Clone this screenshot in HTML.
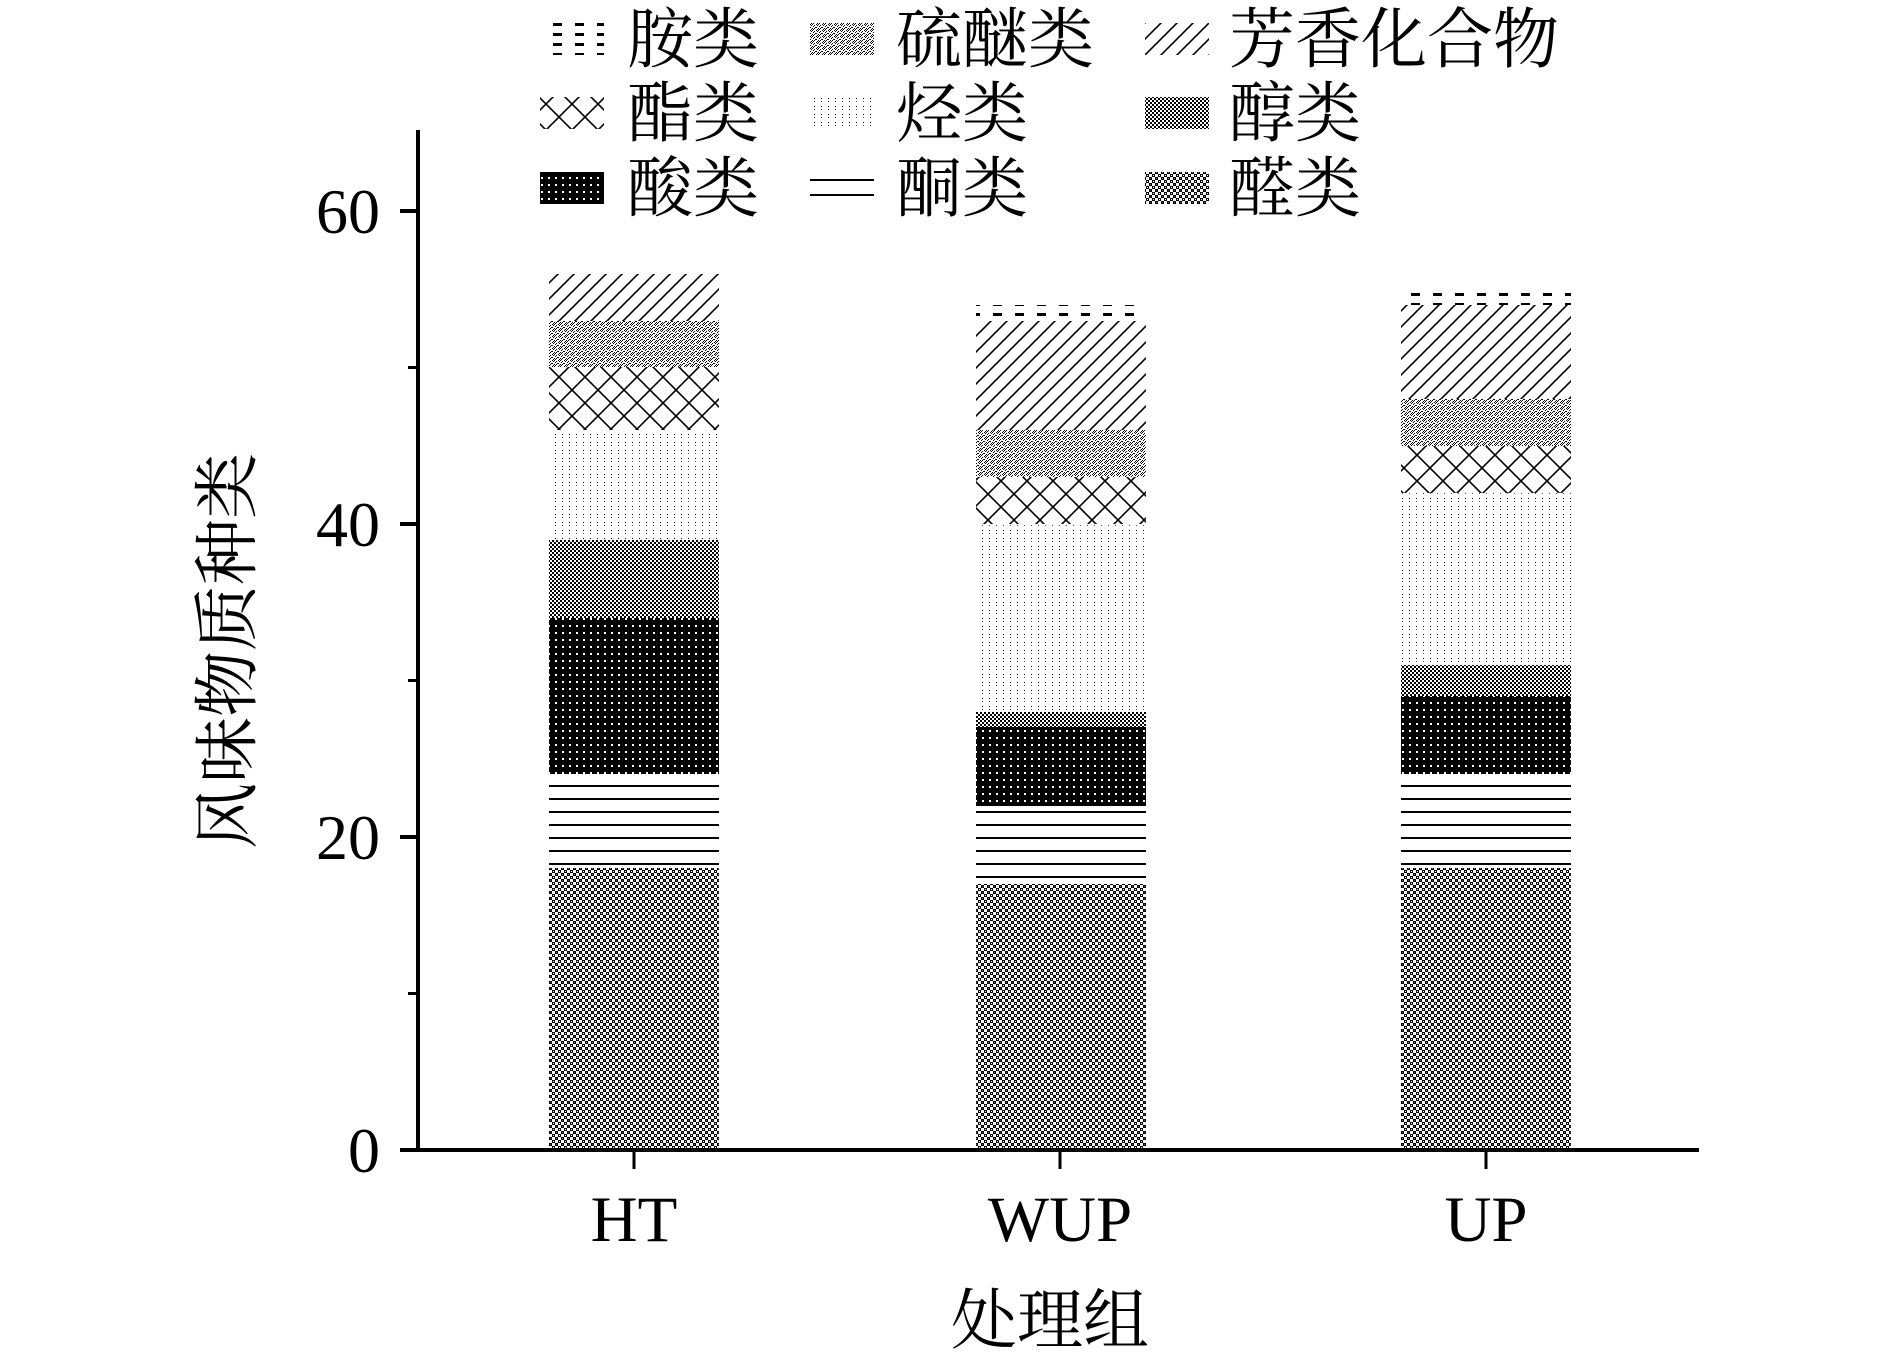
<!DOCTYPE html>
<html><head><meta charset="utf-8"><style>
html,body{margin:0;padding:0;background:#fff;}
svg{display:block;}
text{font-family:"Liberation Serif","Noto Serif CJK SC",serif;fill:#000;}
</style></head><body>
<svg width="1890" height="1359" viewBox="0 0 1890 1359" xmlns="http://www.w3.org/2000/svg">
<defs>
<pattern id="ald" width="6" height="6" patternUnits="userSpaceOnUse">
<rect width="6" height="6" fill="#fff"/><rect x="0" y="0" width="3" height="3" fill="#000"/><rect x="3" y="3" width="3" height="3" fill="#000"/><rect x="1" y="1" width="1" height="1" fill="#fff"/><rect x="4" y="4" width="1" height="1" fill="#555"/>
</pattern>
<pattern id="ket" width="20" height="13" patternUnits="userSpaceOnUse">
<rect width="20" height="13" fill="#fff"/><rect y="5" width="20" height="2" fill="#000"/>
</pattern>
<pattern id="acid" width="7" height="7" patternUnits="userSpaceOnUse">
<rect width="7" height="7" fill="#000"/><rect x="2" y="2" width="2" height="2" fill="#fff"/>
</pattern>
<pattern id="alc" width="4" height="4" patternUnits="userSpaceOnUse">
<rect width="4" height="4" fill="#fff"/><rect width="2" height="2" fill="#000"/><rect x="2" y="2" width="2" height="2" fill="#000"/>
</pattern>
<pattern id="hyd" width="7" height="8" patternUnits="userSpaceOnUse">
<rect width="7" height="8" fill="#fff"/><rect x="2" y="2" width="1" height="1" fill="#000"/><rect x="2" y="5" width="1" height="1" fill="#555"/>
</pattern>
<pattern id="est" width="26" height="26" patternUnits="userSpaceOnUse">
<rect width="26" height="26" fill="#fff"/><path d="M0 0L26 26M26 0L0 26" stroke="#000" stroke-width="1.6"/>
</pattern>
<pattern id="thio" width="6" height="6" patternUnits="userSpaceOnUse">
<rect width="6" height="6" fill="#fff"/><rect x="0" y="0" width="1" height="1" fill="#000"/><rect x="2" y="0" width="1" height="1" fill="#000"/><rect x="1" y="1" width="1" height="1" fill="#000"/><rect x="4" y="1" width="1" height="1" fill="#000"/><rect x="3" y="2" width="1" height="1" fill="#000"/><rect x="0" y="3" width="1" height="1" fill="#000"/><rect x="5" y="3" width="1" height="1" fill="#000"/><rect x="2" y="4" width="1" height="1" fill="#000"/><rect x="4" y="4" width="1" height="1" fill="#000"/><rect x="1" y="5" width="1" height="1" fill="#000"/><rect x="3" y="5" width="1" height="1" fill="#000"/>
</pattern>
<pattern id="aro" width="16" height="16" patternUnits="userSpaceOnUse">
<rect width="16" height="16" fill="#fff"/><path d="M-4 4L4 -4M0 16L16 0M12 20L20 12" stroke="#000" stroke-width="1.6"/>
</pattern>
<pattern id="ami" width="22" height="10" patternUnits="userSpaceOnUse">
<rect width="22" height="10" fill="#fff"/><rect x="3" y="3" width="9" height="3" fill="#000"/>
</pattern>
</defs>

<g>
<!-- HT -->
<rect x="549" y="868" width="170" height="282" fill="url(#ald)"/>
<rect x="549" y="774" width="170" height="94" fill="url(#ket)"/>
<rect x="549" y="618" width="170" height="156" fill="url(#acid)"/>
<rect x="549" y="540" width="170" height="78" fill="url(#alc)"/>
<rect x="549" y="430" width="170" height="110" fill="url(#hyd)"/>
<rect x="549" y="367" width="170" height="63" fill="url(#est)"/>
<rect x="549" y="321" width="170" height="46" fill="url(#thio)"/>
<rect x="549" y="274" width="170" height="47" fill="url(#aro)"/>
<!-- WUP -->
<rect x="976" y="884" width="170" height="266" fill="url(#ald)"/>
<rect x="976" y="806" width="170" height="78" fill="url(#ket)"/>
<rect x="976" y="727" width="170" height="79" fill="url(#acid)"/>
<rect x="976" y="712" width="170" height="15" fill="url(#alc)"/>
<rect x="976" y="524" width="170" height="188" fill="url(#hyd)"/>
<rect x="976" y="477" width="170" height="47" fill="url(#est)"/>
<rect x="976" y="430" width="170" height="47" fill="url(#thio)"/>
<rect x="976" y="321" width="170" height="109" fill="url(#aro)"/>
<rect x="976" y="305" width="170" height="16" fill="url(#ami)"/>
<!-- UP -->
<rect x="1401" y="868" width="170" height="282" fill="url(#ald)"/>
<rect x="1401" y="774" width="170" height="94" fill="url(#ket)"/>
<rect x="1401" y="696" width="170" height="78" fill="url(#acid)"/>
<rect x="1401" y="665" width="170" height="31" fill="url(#alc)"/>
<rect x="1401" y="493" width="170" height="172" fill="url(#hyd)"/>
<rect x="1401" y="446" width="170" height="47" fill="url(#est)"/>
<rect x="1401" y="399" width="170" height="47" fill="url(#thio)"/>
<rect x="1401" y="305" width="170" height="94" fill="url(#aro)"/>
<rect x="1401" y="289" width="170" height="16" fill="url(#ami)"/>
</g>

<g stroke="#000">
<line x1="418" y1="130" x2="418" y2="1152" stroke-width="4"/>
<line x1="400" y1="1150" x2="1699" y2="1150" stroke-width="4"/>
<line x1="400" y1="211" x2="418" y2="211" stroke-width="4"/>
<line x1="400" y1="524" x2="418" y2="524" stroke-width="4"/>
<line x1="400" y1="837" x2="418" y2="837" stroke-width="4"/>
<line x1="408" y1="367.5" x2="418" y2="367.5" stroke-width="3"/>
<line x1="408" y1="680.5" x2="418" y2="680.5" stroke-width="3"/>
<line x1="408" y1="993.5" x2="418" y2="993.5" stroke-width="3"/>
<line x1="634" y1="1150" x2="634" y2="1169" stroke-width="3"/>
<line x1="1060" y1="1150" x2="1060" y2="1169" stroke-width="3"/>
<line x1="1486" y1="1150" x2="1486" y2="1169" stroke-width="3"/>
</g>
<g font-size="64" text-anchor="end">
<text x="380" y="233">60</text>
<text x="380" y="546">40</text>
<text x="380" y="859">20</text>
<text x="380" y="1172">0</text>
</g>
<g font-size="65" text-anchor="middle">
<text x="634" y="1241">HT</text>
<text x="1060" y="1241">WUP</text>
<text x="1486" y="1241">UP</text>
</g>
<g font-size="66" text-anchor="middle">
<text x="1050" y="1343">处理组</text>
<text transform="translate(250,651) rotate(-90)">风味物质种类</text>
</g>

<g>
<rect x="540" y="23" width="64" height="32" fill="url(#ami)"/>
<rect x="810" y="23" width="64" height="32" fill="url(#thio)"/>
<rect x="1145" y="23" width="64" height="32" fill="url(#aro)"/>
<rect x="540" y="97" width="64" height="32" fill="url(#est)"/>
<rect x="810" y="97" width="64" height="32" fill="url(#hyd)"/>
<rect x="1145" y="97" width="64" height="32" fill="url(#alc)"/>
<rect x="540" y="172" width="64" height="32" fill="url(#acid)"/>
<rect x="810" y="179" width="64" height="2" fill="#000"/>
<rect x="810" y="194" width="64" height="2" fill="#000"/>
<rect x="1145" y="172" width="64" height="32" fill="url(#ald)"/>
</g>
<g font-size="66">
<text x="627" y="62">胺类</text>
<text x="896" y="62">硫醚类</text>
<text x="1229" y="62">芳香化合物</text>
<text x="627" y="136">酯类</text>
<text x="896" y="136">烃类</text>
<text x="1229" y="136">醇类</text>
<text x="627" y="211">酸类</text>
<text x="896" y="211">酮类</text>
<text x="1229" y="211">醛类</text>
</g>
</svg>
</body></html>
